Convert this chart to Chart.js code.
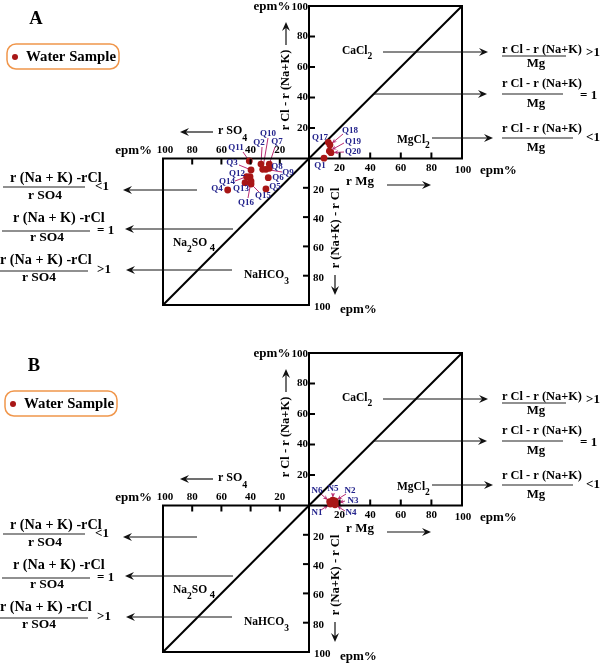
<!DOCTYPE html>
<html><head><meta charset="utf-8">
<script src="https://cdn.jsdelivr.net/npm/chart.js@4.4.1/dist/chart.umd.min.js"></script>
<style>
html,body{margin:0;padding:0;background:#fff;overflow:hidden;}
#wrap{position:relative;width:600px;height:664px;}
canvas{position:absolute;left:0;}
</style></head><body>
<div id="wrap">
<canvas id="chartA" width="600" height="320" style="top:0px"></canvas>
<canvas id="chartB" width="600" height="317" style="top:347px"></canvas>
</div>
<script>
// ---------- DATA ----------
const tickValues = [20, 40, 60, 80];

// Panel A: samples in the upper-right (CaCl2 / MgCl2) square: r Mg (x) and r Cl - r(Na+K) (y), epm%
const aUpperNames = ['Q1', 'Q17', 'Q18', 'Q19', 'Q20'];
const aUpperMg    = [9.8, 12.6, 13.7, 13.3, 14.4];
const aUpperClNaK = [0.2, 10.6, 8.9, 4.9, 3.8];

// Panel A: samples in the lower-left (Na2SO4 / NaHCO3) square: r SO4 (x) and r(Na+K) - r Cl (y), epm%
const aLowerNames = ['Q2', 'Q3', 'Q4', 'Q5', 'Q6', 'Q7', 'Q8', 'Q9', 'Q10', 'Q11', 'Q12', 'Q13', 'Q14', 'Q15', 'Q16'];
const aLowerSO4   = [32.9, 39.7, 55.7, 29.5, 27.9, 27.2, 27.2, 29.5, 31.7, 40.9, 40.4, 43.8, 42.7, 39.7, 39.7];
const aLowerNaKCl = [3.8, 7.8, 21.5, 20.8, 13.1, 3.8, 6.7, 7.4, 7.4, 1.7, 12.4, 16.5, 12.4, 17.4, 15.4];

// Panel B: samples in the upper-right square
const bUpperNames = ['N1', 'N2', 'N3', 'N4', 'N5', 'N6'];
const bUpperMg    = [14, 17, 18, 17, 15.5, 13.5];
const bUpperClNaK = [1, 3, 1.5, 0.5, 3.5, 2.5];

// ---------- STYLE / LAYOUT ----------
const RED = 'rgb(168,22,22)';
const NAVY = 'rgb(35,35,140)';
const LEAD = 'rgb(185,45,115)';
const SERIF = '"Liberation Serif", "Times New Roman", serif';
const frameSquare = [{x:0,y:0},{x:100,y:0},{x:100,y:100},{x:0,y:100},{x:0,y:0}];
const frameDiagonal = [{x:0,y:0},{x:100,y:100}];

// sample label placement (text centre in canvas px, optional leader start, arrowhead flag)
const aLabelPos = [
  ['Q1', 320,166], ['Q17', 320,138],
  ['Q18', 350,131, 343,134, true], ['Q19', 353,142, 344,143, true], ['Q20', 353,152, 344,152, true],
  ['Q11', 236,148, 243,152], ['Q3', 232,163, 239,165], ['Q2', 259,143, 262,147],
  ['Q10', 268,134, 268,138], ['Q7', 277,142, 275,147], ['Q8', 277,167, 271,167],
  ['Q9', 288,173, 282,172], ['Q6', 278,178], ['Q12', 237,174, 245,175],
  ['Q14', 227,182, 235,181], ['Q13', 241,189, 246,186], ['Q16', 246,203, 248,198],
  ['Q15', 263,196, 259,192], ['Q5', 275,187], ['Q4', 217,189]
];
const bLabelPos = [
  ['N6', 317,144, 321,147, true], ['N5', 333,142, 333,146, true], ['N2', 350,144, 346,147, true],
  ['N3', 353,154, 345,154, true], ['N4', 351,166, 345,164, true], ['N1', 317,166, 321,163, true]
];

function font(size) { return 'bold ' + size + 'px ' + SERIF; }
function pts(xs, ys) { return xs.map((v, i) => ({x: v, y: ys[i]})); }

function txt(ctx, s, x, y, size, align, color) {
  ctx.font = font(size); ctx.fillStyle = color || '#000';
  ctx.textAlign = align || 'center'; ctx.textBaseline = 'middle';
  ctx.fillText(s, x, y);
}
function runs(ctx, parts, x, y) { // left aligned runs [text, size, dy]
  let cx = x;
  parts.forEach(p => {
    ctx.font = font(p[1]); ctx.fillStyle = '#000'; ctx.textAlign = 'left'; ctx.textBaseline = 'middle';
    ctx.fillText(p[0], cx, y + p[2]);
    cx += ctx.measureText(p[0]).width;
  });
}
function seg(ctx, x1, y1, x2, y2, lw, color) {
  ctx.beginPath(); ctx.moveTo(x1, y1); ctx.lineTo(x2, y2);
  ctx.lineWidth = lw; ctx.strokeStyle = color || '#000'; ctx.stroke();
}
function arrow(ctx, x1, y1, x2, y2, lw, color, h, w) {
  color = color || '#111'; h = h || 9; w = w || 4;
  const a = Math.atan2(y2 - y1, x2 - x1), c = Math.cos(a), s = Math.sin(a);
  seg(ctx, x1, y1, x2 - c * h * 0.5, y2 - s * h * 0.5, lw, color);
  ctx.beginPath();
  ctx.moveTo(x2, y2);
  ctx.lineTo(x2 - c * h - s * w, y2 - s * h + c * w);
  ctx.lineTo(x2 - c * h * 0.65, y2 - s * h * 0.65);
  ctx.lineTo(x2 - c * h + s * w, y2 - s * h - c * w);
  ctx.closePath(); ctx.fillStyle = color; ctx.fill();
}
function fraction(ctx, num, numX, numY, numSize, lx1, lx2, ly, den, denX, denY, denSize, rel, relX, relY) {
  txt(ctx, num, numX, numY, numSize, 'left');
  seg(ctx, lx1, ly, lx2, ly, 1.2, '#222');
  txt(ctx, den, denX, denY, denSize, 'center');
  txt(ctx, rel, relX, relY, 13, 'left');
}

function pointPixel(chart, panel, name) {
  const s = chart.scales;
  let i = panel.upperNames.indexOf(name);
  if (i >= 0) return [s.xR.getPixelForValue(panel.upperMg[i]), s.yU.getPixelForValue(panel.upperCl[i])];
  i = panel.lowerNames ? panel.lowerNames.indexOf(name) : -1;
  if (i >= 0) return [s.xL.getPixelForValue(panel.lowerSO4[i]), s.yD.getPixelForValue(panel.lowerNaKCl[i])];
  return null;
}

function makePlugin(panel) {
  return {
    id: 'sulin' + panel.name,
    beforeDatasetsDraw(chart) {
      const ctx = chart.ctx;
      ctx.save();
      panel.labels.forEach(l => {
        if (l.length < 5) return;
        const p = pointPixel(chart, panel, l[0]);
        if (!p) return;
        if (l[5]) {
          const dx = p[0] - l[3], dy = p[1] - l[4], d = Math.hypot(dx, dy) || 1;
          arrow(ctx, l[3], l[4], p[0] - dx / d * 2.5, p[1] - dy / d * 2.5, 1, LEAD, 5, 2.2);
        } else {
          seg(ctx, l[3], l[4], p[0], p[1], 1, LEAD);
        }
      });
      ctx.restore();
    },
    afterDatasetsDraw(chart) {
      const ctx = chart.ctx, s = chart.scales;
      ctx.save();
      const x0 = s.xR.getPixelForValue(0), y0 = s.yU.getPixelForValue(0);
      // ticks + tick labels
      tickValues.forEach(v => {
        const xr = s.xR.getPixelForValue(v);
        seg(ctx, xr, y0, xr, y0 - 6, 2);
        txt(ctx, String(v), xr, y0 + 10, 11);
        const yu = s.yU.getPixelForValue(v);
        seg(ctx, x0, yu, x0 + 6, yu, 2);
        txt(ctx, String(v), x0 - 1, yu, 11, 'right');
        const xl = s.xL.getPixelForValue(v);
        seg(ctx, xl, y0, xl, y0 + 6, 2);
        txt(ctx, String(v), xl, y0 - 8, 11);
        const yd = s.yD.getPixelForValue(v);
        seg(ctx, x0 - 6, yd, x0, yd, 2);
        txt(ctx, String(v), x0 + 4, yd + 2, 11, 'left');
      });
      txt(ctx, '100', x0 - 1, s.yU.getPixelForValue(100) + 1, 11, 'right');
      txt(ctx, 'epm%', 272, 7, 13);
      txt(ctx, '100', s.xL.getPixelForValue(100) + 2, y0 - 8, 11);
      txt(ctx, 'epm%', 152, y0 - 8, 13, 'right');
      txt(ctx, '100', s.xR.getPixelForValue(100) + 1, y0 + 12, 11);
      txt(ctx, 'epm%', 480, y0 + 12, 13, 'left');
      txt(ctx, '100', x0 + 5, s.yD.getPixelForValue(100) + 2, 11, 'left');
      txt(ctx, 'epm%', 340, s.yD.getPixelForValue(100) + 5, 13, 'left');

      // axis titles
      ctx.save(); ctx.translate(286, 90); ctx.rotate(-Math.PI / 2);
      txt(ctx, 'r Cl - r (Na+K)', 0, 0, 12.5); ctx.restore();
      arrow(ctx, 286, 45, 286, 22, 1.2);
      ctx.save(); ctx.translate(336, 228); ctx.rotate(-Math.PI / 2);
      txt(ctx, 'r (Na+K) - r Cl', 0, 0, 12.5); ctx.restore();
      arrow(ctx, 335, 275, 335, 295, 1.2);
      txt(ctx, 'r Mg', 360, 182, 13);
      arrow(ctx, 387, 185, 431, 185, 1.2);
      runs(ctx, [['r SO', 12, 0], ['4', 10, 7]], 218, 131);
      arrow(ctx, 213, 132, 180, 132, 1.2);

      // region names
      runs(ctx, [['CaCl', 11.5, 0], ['2', 9.5, 6]], 342, 51);
      runs(ctx, [['MgCl', 11.5, 0], ['2', 9.5, 6]], 397, 140);
      runs(ctx, [['Na', 11.5, 0], ['2', 9.5, 7], ['SO', 11.5, 0], [' 4', 10.5, 5]], 173, 243);
      runs(ctx, [['NaHCO', 11.5, 0], ['3', 9.5, 7]], 244, 275);

      // right-hand arrows and ratios
      arrow(ctx, 383, 52, 488, 52, 1);
      arrow(ctx, 373, 94, 487, 94, 1);
      arrow(ctx, 432, 138, 493, 138, 1);
      fraction(ctx, 'r Cl - r (Na+K)', 502, 50, 12.4, 502, 566, 56, 'Mg', 536, 64, 12.8, '>1', 586, 53);
      fraction(ctx, 'r Cl - r (Na+K)', 502, 84, 12.4, 502, 563, 94, 'Mg', 536, 104, 12.8, '= 1', 580, 96);
      fraction(ctx, 'r Cl - r (Na+K)', 502, 129, 12.4, 502, 573, 138, 'Mg', 536, 148, 12.8, '<1', 586, 138);

      // left-hand arrows and ratios
      arrow(ctx, 197, 190, 123, 190, 1);
      arrow(ctx, 233, 229, 125, 229, 1);
      arrow(ctx, 232, 270, 126, 270, 1);
      fraction(ctx, 'r (Na + K) -rCl', 10, 178, 14.2, 3, 85, 187, 'r SO4', 45, 196, 13.5, '<1', 95, 187);
      fraction(ctx, 'r (Na + K) -rCl', 13, 218, 14.2, 2, 90, 231, 'r SO4', 47, 238, 13.5, '= 1', 97, 231);
      fraction(ctx, 'r (Na + K) -rCl', 0, 260, 14.2, 0, 88, 271, 'r SO4', 39, 278, 13.5, '>1', 97, 270);

      // panel letter and legend
      txt(ctx, panel.name, 36 + panel.dx, 19, 18.5);
      ctx.beginPath();
      ctx.roundRect(7 + panel.dx, 44, 112, 25, 9);
      ctx.lineWidth = 1.5; ctx.strokeStyle = 'rgb(240,150,75)'; ctx.stroke();
      ctx.beginPath(); ctx.arc(15 + panel.dx, 57, 3, 0, Math.PI * 2); ctx.fillStyle = RED; ctx.fill();
      txt(ctx, 'Water Sample', 26 + panel.dx, 57, 14.8, 'left');

      // sample labels
      panel.labels.forEach(l => txt(ctx, l[0], l[1], l[2], 9, 'center', NAVY));
      ctx.restore();
    }
  };
}

function buildChart(id, panel, height) {
  const ds = [];
  ds.push({label: 'Water Sample', data: pts(panel.upperMg, panel.upperCl), xAxisID: 'xR', yAxisID: 'yU',
    pointRadius: 3.4, pointBackgroundColor: RED, pointBorderWidth: 0, showLine: false, order: 0, clip: false});
  if (panel.lowerNames) {
    ds.push({label: 'Water Sample (lower)', data: pts(panel.lowerSO4, panel.lowerNaKCl), xAxisID: 'xL', yAxisID: 'yD',
      pointRadius: 3.4, pointBackgroundColor: RED, pointBorderWidth: 0, showLine: false, order: 0, clip: false});
  }
  const lineStyle = {showLine: true, borderColor: '#000', borderWidth: 2, pointRadius: 0, order: 5, clip: false, tension: 0};
  ds.push(Object.assign({label: 'frameU', data: frameSquare, xAxisID: 'xR', yAxisID: 'yU'}, lineStyle));
  ds.push(Object.assign({label: 'frameD', data: frameSquare, xAxisID: 'xL', yAxisID: 'yD'}, lineStyle));
  ds.push(Object.assign({label: 'diagU', data: frameDiagonal, xAxisID: 'xR', yAxisID: 'yU'}, lineStyle));
  ds.push(Object.assign({label: 'diagD', data: frameDiagonal, xAxisID: 'xL', yAxisID: 'yD'}, lineStyle));
  return new Chart(document.getElementById(id), {
    type: 'scatter',
    data: {datasets: ds},
    options: {
      responsive: false, animation: false, events: [],
      layout: {padding: {left: 163, right: 138, top: 6, bottom: height - 305}, autoPadding: false},
      plugins: {legend: {display: false}, tooltip: {enabled: false}},
      scales: {
        xL: {type: 'linear', axis: 'x', position: 'bottom', stack: 'h', stackWeight: 146, min: 0, max: 100, reverse: true, display: false},
        xR: {type: 'linear', axis: 'x', position: 'bottom', stack: 'h', stackWeight: 153, min: 0, max: 100, display: false},
        yU: {type: 'linear', axis: 'y', position: 'right', stack: 'v', stackWeight: 152.5, min: 0, max: 100, display: false},
        yD: {type: 'linear', axis: 'y', position: 'right', stack: 'v', stackWeight: 146.5, min: 0, max: 100, reverse: true, display: false}
      }
    },
    plugins: [makePlugin(panel)]
  });
}

buildChart('chartA', {name: 'A', dx: 0, upperNames: aUpperNames, upperMg: aUpperMg, upperCl: aUpperClNaK,
  lowerNames: aLowerNames, lowerSO4: aLowerSO4, lowerNaKCl: aLowerNaKCl, labels: aLabelPos}, 320);
buildChart('chartB', {name: 'B', dx: -2, upperNames: bUpperNames, upperMg: bUpperMg, upperCl: bUpperClNaK,
  labels: bLabelPos}, 317);
</script></body></html>
